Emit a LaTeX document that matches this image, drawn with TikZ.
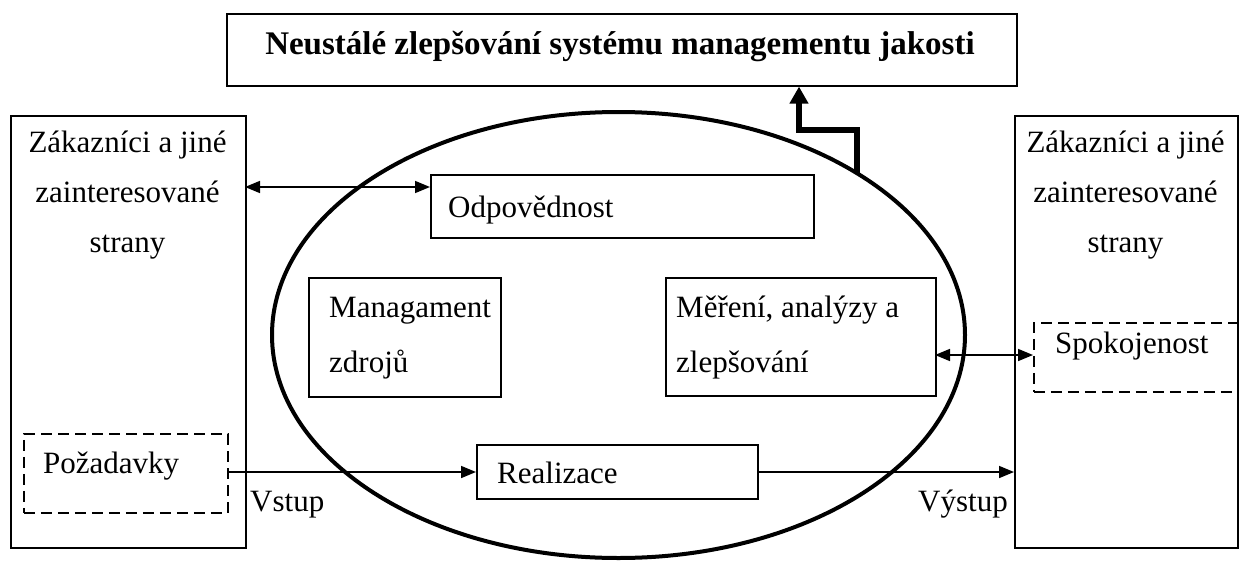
\documentclass[tikz,border=0pt]{standalone}
\usepackage{fontspec}
\setmainfont{Liberation Serif}
\usetikzlibrary{shapes.geometric,arrows.meta}
\tikzset{
  box/.style={draw, line width=1.6pt, inner sep=0pt, anchor=north west},
  dbox/.style={draw, line width=1.6pt, inner sep=0pt, anchor=north west, dash pattern=on 11pt off 6pt},
  txt/.style={inner sep=0pt, anchor=base west, font=\fontsize{31}{36}\selectfont},
  ctxt/.style={inner sep=0pt, anchor=base, font=\fontsize{31}{36}\selectfont},
  conn/.style={line width=1.6pt, -{Triangle[length=15pt,width=12pt]}},
  dconn/.style={line width=1.6pt, {Triangle[length=15pt,width=12pt]}-{Triangle[length=15pt,width=12pt]}},
  bigarrow/.style={line width=6pt, -{Triangle[length=17pt,width=18pt]}}
}
\begin{document}
\begin{tikzpicture}[x=1pt,y=-1pt]
\useasboundingbox (0,0) rectangle (1240,560);
% main boxes
\node[box, minimum width=790pt, minimum height=72pt] (top) at (226,13) {};
\node[inner sep=0pt, anchor=base, font=\fontsize{33}{38}\selectfont\bfseries] (toptxt) at (620,54) {Neustálé zlepšování systému managementu jakosti};
\node[box, minimum width=235pt, minimum height=432pt] (left) at (10,115) {};
\node[box, minimum width=223pt, minimum height=432pt] (right) at (1014,115) {};
% ellipse
\node[draw, ellipse, line width=4pt, inner sep=0pt, minimum width=693pt, minimum height=446pt] (ell) at (618.5,335) {};
% inner boxes
\node[box, minimum width=383pt, minimum height=63pt] (odp) at (430,174) {};
\node[box, minimum width=192pt, minimum height=119pt] (man) at (308,277) {};
\node[box, minimum width=270pt, minimum height=118pt] (mer) at (665,277) {};
\node[box, minimum width=281pt, minimum height=54pt] (real) at (476,444) {};
\node[dbox, minimum width=204pt, minimum height=79pt] (poz) at (23,433) {};
\node[dbox, minimum width=204pt, minimum height=69pt] (spok) at (1033,322) {};
% texts
\node[ctxt] (l1) at (127.5,152) {Zákazníci a jiné};
\node[ctxt] (l2) at (127.5,202) {zainteresované};
\node[ctxt] (l3) at (127.5,252) {strany};
\node[ctxt] (r1) at (1125.5,152) {Zákazníci a jiné};
\node[ctxt] (r2) at (1125.5,202) {zainteresované};
\node[ctxt] (r3) at (1125.5,252) {strany};
\node[txt] (odpt) at (448,217) {Odpovědnost};
\node[txt] (mant1) at (329,317) {Managament};
\node[txt] (mant2) at (329,372) {zdrojů};
\node[txt] (mert1) at (676,317) {Měření, analýzy a};
\node[txt] (mert2) at (676,372) {zlepšování};
\node[txt] (realt) at (497,483) {Realizace};
\node[txt] (pozt) at (43,473) {Požadavky};
\node[txt] (spokt) at (1055,353) {Spokojenost};
\node[txt] (vst) at (250,511) {Vstup};
\node[txt] (vyst) at (918,511) {Výstup};
% connectors
\coordinate (a1) at (245,187);
\coordinate (a2) at (430,187);
\draw[dconn] (a1) -- (a2);
\coordinate (b1) at (935,355);
\coordinate (b2) at (1033,355);
\draw[dconn] (b1) -- (b2);
\draw[conn] (poz.east |- 0,472) -- (real.west |- 0,472);
\draw[conn] (real.east |- 0,472) -- (right.west |- 0,472);
\coordinate (c0) at (857,174);
\coordinate (c1) at (857,130);
\coordinate (c2) at (799,130);
\draw[bigarrow] (c0) -- (c1) -- (c2) -- (c2 |- top.south);
\end{tikzpicture}
\end{document}
